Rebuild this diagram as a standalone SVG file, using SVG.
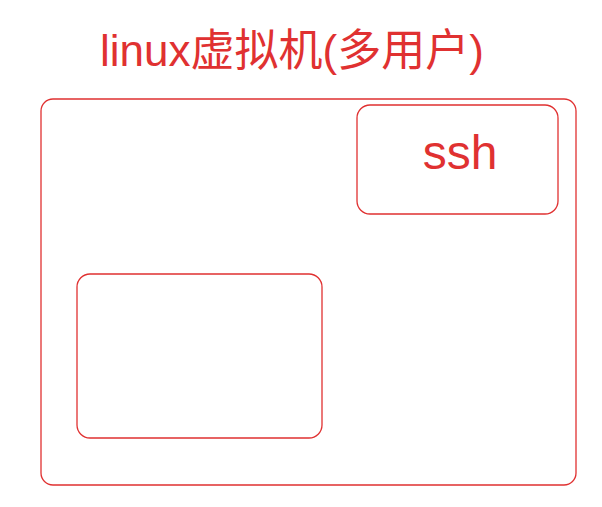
<svg xmlns="http://www.w3.org/2000/svg" width="602" height="507" viewBox="0 0 602 507">
<style>
.box{fill:none;stroke:#e03131;stroke-width:1.3}
.t{fill:#e03131;font-family:"Liberation Sans","Noto Sans CJK SC",sans-serif}
</style>
<rect width="602" height="507" fill="#ffffff"/>
<g id="title"><text class="t" x="100" y="66" font-size="44">linux虚拟机(多用户)</text></g>
<g id="vm"><rect class="box" x="41" y="99" width="535" height="386" rx="12"/></g>
<g id="ssh"><rect class="box" x="357" y="105" width="201" height="109" rx="13"/>
<text class="t" x="460" y="169" font-size="48" text-anchor="middle">ssh</text></g>
<g id="box2"><rect class="box" x="77" y="274" width="245" height="164" rx="13"/></g>
<g id="connectors"></g>
</svg>
